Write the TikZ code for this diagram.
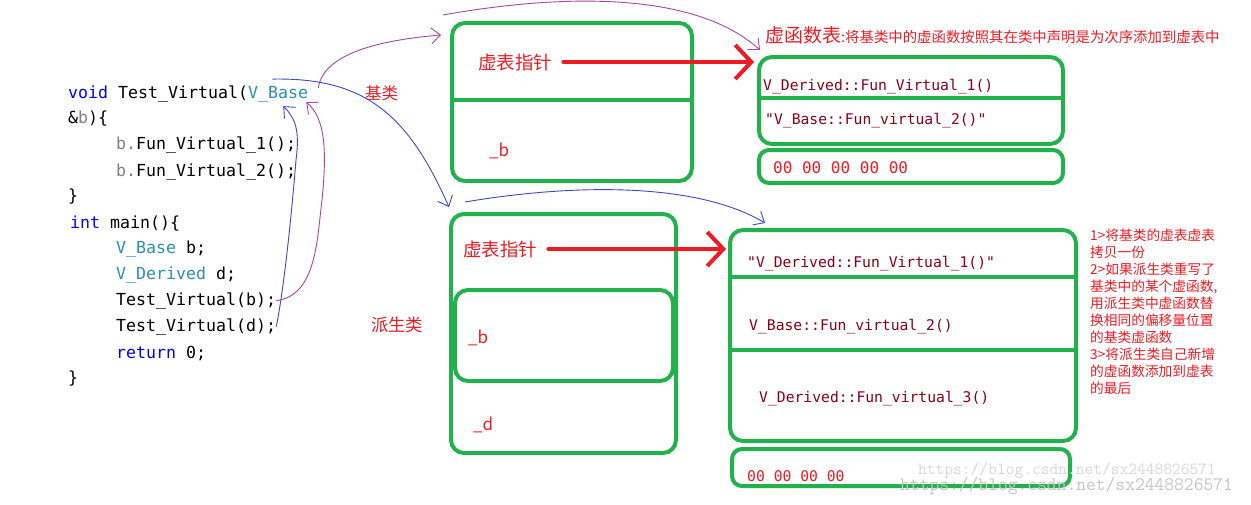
\documentclass[tikz,border=0pt]{standalone}
\usepackage{fontspec}
\newfontfamily\cjk{Noto Sans CJK SC}
\newfontfamily\codefont{DejaVu Sans Mono}
\usetikzlibrary{arrows.meta,calc}
\definecolor{grn}{HTML}{22B14C}
\definecolor{rd}{HTML}{ED1C24}
\definecolor{drd}{HTML}{880015}
\definecolor{pur}{HTML}{A349A4}
\definecolor{blu}{HTML}{3F48CC}
\definecolor{kw}{HTML}{0000FF}
\definecolor{ty}{HTML}{2B91AF}
\definecolor{gr}{HTML}{808080}

\begin{document}
\begin{tikzpicture}[x=1pt,y=-1pt]
\tikzset{box/.style={draw=grn,line width=4pt,rounded corners=13pt,inner sep=0pt}}
\tikzset{div/.style={draw=grn,line width=4pt}}
\tikzset{codeline/.style={anchor=base west,inner sep=0pt,font=\codefont\fontsize{16.6}{20}\selectfont}}
\tikzset{fn/.style={anchor=west,inner sep=0pt,text=drd,font=\codefont\fontsize{14.7}{18}\selectfont}}
\tikzset{lbl/.style={inner sep=0pt,text=rd,font=\cjk\fontsize{#1}{#1}\selectfont}}
\tikzset{hand/.style={draw=#1,line width=0.9pt,-{Straight Barb[length=9pt,width=16pt]}}}
\tikzset{ptr/.style={draw=rd,line width=4pt,line cap=round,-{Straight Barb[length=16pt,width=34pt]}}}
\useasboundingbox[fill=white] (0,0) rectangle (1251,504);

\node[codeline] (c1) at (68,98) {\textcolor{kw}{void} Test\_Virtual(\textcolor{ty}{V\_Base}};
\node[codeline] (c2) at (68,123) {\&\textcolor{gr}{b})\{};
\node[codeline] (c3) at (116,149) {\textcolor{gr}{b.}Fun\_Virtual\_1();};
\node[codeline] (c4) at (116,176) {\textcolor{gr}{b.}Fun\_Virtual\_2();};
\node[codeline] (c5) at (68,201) {\}};
\node[codeline] (c6) at (70,228) {\textcolor{kw}{int} main()\{};
\node[codeline] (c7) at (116,253) {\textcolor{ty}{V\_Base} b;};
\node[codeline] (c8) at (116,279) {\textcolor{ty}{V\_Derived} d;};
\node[codeline] (c9) at (116,305) {Test\_Virtual(b);};
\node[codeline] (c10) at (116,331) {Test\_Virtual(d);};
\node[codeline] (c11) at (116,358) {\textcolor{kw}{return} 0;};
\node[codeline] (c12) at (68,383) {\}};

\node[lbl=16.5,anchor=west] (lbase) at (365,93) {基类};
\node[lbl=17.3,anchor=west] (lder) at (371,325) {派生类};

\node[box,minimum width=240,minimum height=158] (bobj) at (572,102) {};
\draw[div] (bobj.west |- 0,100) -- (bobj.east |- 0,100);
\node[lbl=18.5,anchor=west] (bptr) at (478,62) {虚表指针};
\node[lbl=17,anchor=base west] (bb) at (489,156) {\_b};

\node[box,minimum width=304,minimum height=87] (bvt) at (911,100.5) {};
\draw[div] (bvt.west |- 0,98) -- (bvt.east |- 0,98);
\node[box,rounded corners=10pt,minimum width=304,minimum height=33] (bz) at (911,166.5) {};
\node[lbl=19,anchor=base west] (bhead) at (765,42) {虚函数表{\fontsize{14.4}{16}\selectfont :将基类中的虚函数按照其在类中声明是为次序添加到虚表中}};
\node[fn] (bf1) at (763,87) {V\_Derived::Fun\_Virtual\_1()};
\node[fn] (bf2) at (765,121) {"V\_Base::Fun\_virtual\_2()"};
\node[fn,text=rd,font=\codefont\fontsize{16}{18}\selectfont] (bz0) at (773,168) {00 00 00 00 00};

\node[box,minimum width=225,minimum height=239] (dobj) at (563.5,333.5) {};
\node[box,minimum width=218,minimum height=91] (dobjb) at (564,335.5) {};
\node[lbl=18.5,anchor=west] (dptr) at (463,249) {虚表指针};
\node[lbl=17,anchor=base west] (db) at (468,343) {\_b};
\node[lbl=17,anchor=base west] (dd) at (473,430) {\_d};

\node[box,minimum width=346,minimum height=211] (dvt) at (903,335.5) {};
\draw[div] (dvt.west |- 0,277) -- (dvt.east |- 0,277);
\draw[div] (dvt.west |- 0,350) -- (dvt.east |- 0,350);
\node[box,rounded corners=10pt,minimum width=338,minimum height=37] (dz) at (901,467.5) {};
\node[fn] (df1) at (747,264) {"V\_Derived::Fun\_Virtual\_1()"};
\node[fn] (df2) at (749,327) {V\_Base::Fun\_virtual\_2()};
\node[fn] (df3) at (759,399) {V\_Derived::Fun\_virtual\_3()};
\node[fn,text=rd] (dz0) at (747,476) {00 00 00 00};

\node[lbl=13.5,anchor=north west,align=left,font=\cjk\fontsize{13.7}{17}\selectfont] (notes) at (1090,229) {1>将基类的虚表虚表\\拷贝一份\\2>如果派生类重写了\\基类中的某个虚函数,\\用派生类中虚函数替\\换相同的偏移量位置\\的基类虚函数\\3>将派生类自己新增\\的虚函数添加到虚表\\的最后};

\node[anchor=west,inner sep=0pt,text=gray!30,font=\ttfamily\fontsize{17}{17}\selectfont] (wm1) at (918,471) {https://blog.csdn.net/sx2448826571};
\node[anchor=west,inner sep=0pt,text=gray!45,font=\ttfamily\fontsize{19}{19}\selectfont] (wm2) at (900,486) {https://blog.csdn.net/sx2448826571};

\draw[ptr] ([xshift=11pt]bptr.east) -- ($(bptr.east -| bvt.west)+(-3,0)$);
\draw[ptr] ([xshift=11pt]dptr.east) -- ($(dptr.east -| dvt.west)+(-2,0)$);

\draw[hand=pur] ($(c1.north east)+(10,3)$) .. controls +(5,-35) and +(-60,5) .. ($(bobj.north west)+(-9,14)$);
\draw[hand=pur] (c9.east) .. controls +(40,-5) and +(-5,40) .. (322,200) .. controls +(5,-50) and +(19,16) .. ($(c1.south east)+(-2,0)$);
\draw[hand=blu] (c10.east) .. controls +(8,-40) and +(-4,50) .. (296,160) .. controls +(4,-30) and +(12,12) .. ($(c1.south east)+(-25,4)$);
\draw[hand=blu] ($(c1.north east)+(-36,-6)$) .. controls +(95,-2) and +(-40,-90) .. ($(dobj.north west)+(0,-5)$);
\draw[hand=blu] ($(dobj.north west)+(16,-10)$) .. controls +(113,-19) and +(-67,-40) .. ($(dvt.north west)+(37,-5)$);
\draw[hand=pur] ($(bobj.north west)+(-7,-6)$) .. controls +(95,-17) and +(-72,-65) .. ($(bvt.north west)+(3,-5)$);
\end{tikzpicture}
\end{document}
